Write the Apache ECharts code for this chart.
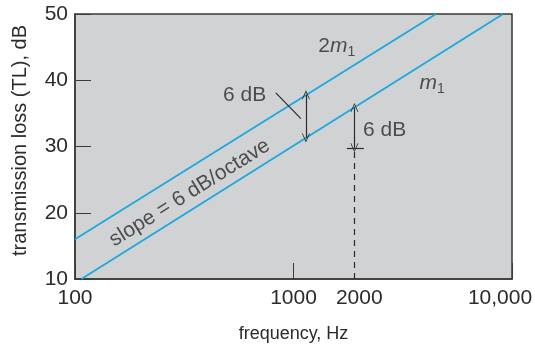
<!DOCTYPE html>
<html>
<head>
<meta charset="utf-8">
<script src="https://cdn.jsdelivr.net/npm/echarts@6/dist/echarts.min.js"></script>
<style>
  html, body { margin: 0; padding: 0; background: #fff; }
  #chart { width: 535px; height: 348px; }
</style>
</head>
<body>
<div id="chart"></div>
<script>
// frequency axis (log) and TL axis
var freqLabels = [100, 1000, 2000, 10000];
var tlTicks = [10, 20, 30, 40, 50];

// the two mass-law lines, [Hz, dB]
var line2m1 = [[100, 16], [4490, 50]];
var lineM1 = [[107, 10], [9100, 50]];

// 6 dB markers: [Hz, top dB, bottom dB]
var arrowLeft = [1140, 37.8, 31.3];
var arrowRight = [1900, 35.9, 29.8];
var tickRight = [1754, 2099, 29.8];
var leader = [[830, 38.1], [1081, 34.2]];

// text notes: [Hz, dB, text]
var notes = [
  [1578, 45.1, '{n|2}{i|m}{s|1}'],
  [4305, 39.6, '{i|m}{s|1}'],
  [598, 37.8, '6 dB'],
  [2613, 32.4, '6 dB']
];
var slopeNote = [335, 23.0, 'slope = 6 dB/octave'];

var blue = '#1ba8e2';
var ink = '#2b2b2b';
var font = '"Liberation Sans", Arial, sans-serif';
var chev = 'path://M0,10 L5,0 L10,10 L9,10 L5,2 L1,10 Z';

var chart = echarts.init(document.getElementById('chart'));

var richStyle = {
  n: { fontSize: 21, color: ink, fontFamily: font },
  i: { fontSize: 21, color: ink, fontFamily: font, fontStyle: 'italic' },
  s: { fontSize: 14, color: ink, fontFamily: font, padding: [12, 0, 0, 0] }
};

var option = {
  animation: false,
  grid: {
    left: 75, right: 23, top: 14, bottom: 69,
    outerBoundsMode: 'none',
    containLabel: false,
    show: true,
    backgroundColor: '#d1d2d4',
    borderColor: '#3a3a3a',
    borderWidth: 1.5
  },
  xAxis: {
    type: 'log',
    logBase: 10,
    min: 100,
    max: 10000,
    name: 'frequency, Hz',
    nameLocation: 'middle',
    nameGap: 46,
    nameTextStyle: { fontSize: 18, color: ink, fontFamily: font },
    axisLine: { lineStyle: { color: '#3a3a3a', width: 1.5 } },
    axisTick: { inside: true, length: 16, lineStyle: { color: '#3a3a3a' } },
    minorTick: { show: false },
    splitLine: { show: false },
    axisLabel: {
      customValues: freqLabels,
      margin: 9,
      fontSize: 21,
      color: ink,
      fontFamily: font,
      formatter: function (v) { return v === 10000 ? '{r|10,000}' : String(v); },
      rich: {
        r: { fontSize: 21, color: ink, fontFamily: font, padding: [0, 24, 0, 0] }
      }
    }
  },
  yAxis: {
    type: 'value',
    min: tlTicks[0],
    max: tlTicks[tlTicks.length - 1],
    interval: 10,
    name: 'transmission loss (TL), dB',
    nameLocation: 'middle',
    nameGap: 45,
    nameTextStyle: { fontSize: 20, color: ink, fontFamily: font, padding: [0, 0, 0, 12] },
    axisLine: { show: true, lineStyle: { color: '#3a3a3a', width: 1.5 } },
    axisTick: { show: true, inside: true, length: 16, lineStyle: { color: '#3a3a3a' } },
    splitLine: { show: false },
    axisLabel: { margin: 7, fontSize: 21, color: ink, fontFamily: font }
  },
  series: [
    {
      name: '2m1', type: 'line', data: line2m1, symbol: 'none',
      lineStyle: { color: blue, width: 1.8 }
    },
    {
      name: 'm1', type: 'line', data: lineM1, symbol: 'none',
      lineStyle: { color: blue, width: 1.8 }
    },
    {
      name: 'marks', type: 'line', data: [], symbol: 'none',
      markLine: {
        silent: true,
        symbol: ['none', 'none'],
        label: { show: false },
        lineStyle: { color: ink, width: 1.2, type: 'solid' },
        data: [
          [{ coord: [arrowRight[0], 10], lineStyle: { type: [6, 5], color: ink, width: 1.2 } },
           { coord: [arrowRight[0], arrowRight[2]] }],
          [{ coord: [arrowLeft[0], arrowLeft[1]], symbol: chev, symbolSize: [8, 9] },
           { coord: [arrowLeft[0], arrowLeft[2]], symbol: chev, symbolSize: [8, 9] }],
          [{ coord: [arrowRight[0], arrowRight[1]], symbol: chev, symbolSize: [8, 9] },
           { coord: [arrowRight[0], arrowRight[2]], symbol: chev, symbolSize: [8, 9] }],
          [{ coord: [tickRight[0], tickRight[2]] }, { coord: [tickRight[1], tickRight[2]] }],
          [{ coord: leader[0] }, { coord: leader[1] }]
        ]
      }
    },
    {
      name: 'notes', type: 'scatter', symbolSize: 0, silent: true,
      data: notes.map(function (d) { return { value: [d[0], d[1]], text: d[2] }; }),
      label: {
        show: true, position: 'inside',
        fontSize: 21, color: ink, fontFamily: font,
        formatter: function (p) { return p.data.text; },
        rich: richStyle
      }
    },
    {
      name: 'slope', type: 'scatter', symbolSize: 0, silent: true,
      data: [{ value: [slopeNote[0], slopeNote[1]] }],
      label: {
        show: true, position: 'inside', rotate: 32,
        fontSize: 21, color: ink, fontFamily: font,
        formatter: slopeNote[2]
      }
    }
  ]
};

chart.setOption(option);
</script>
</body>
</html>
